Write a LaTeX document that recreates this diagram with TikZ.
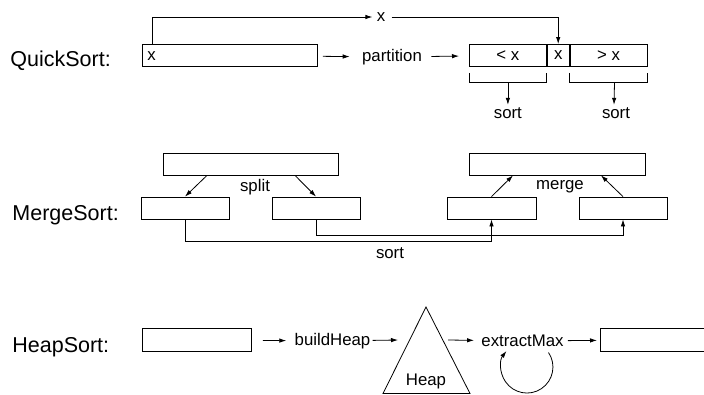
\documentclass[tikz,border=0pt]{standalone}
\usepackage{fontspec}
\setmainfont{Liberation Sans}
\usetikzlibrary{arrows.meta,positioning}
\begin{document}
\begin{tikzpicture}[x=1pt,y=-1pt,line width=0.8pt,>={Latex[length=7pt,width=4.5pt]},
	box/.style={draw, minimum height=22pt, inner sep=0pt, font=\fontsize{16.8}{19}\selectfont},
	algo/.style={anchor=base west, inner sep=0pt, font=\fontsize{21.5}{25}\selectfont},
	txt/.style={inner sep=2pt, font=\fontsize{16.8}{19}\selectfont}]

	\useasboundingbox (0,0) rectangle (704,394);

	% QuickSort
	\node[algo] (qs) at (10,66) {QuickSort:};
	\node[box, minimum width=175pt, anchor=north west] (qin) at (142,44) {};
	\node[txt, anchor=west, inner sep=0pt] (qx) at (147,56) {x};
	\node[txt] (part) at (392,57) {partition};
	\node[box, minimum width=77pt, anchor=north west] (lt) at (469,44) {< x};
	\node[box, minimum width=22pt, right=0pt of lt] (pv) {x};
	\node[box, minimum width=77pt, right=0pt of pv] (gt) {> x};
	\node[txt] (px) at (381,17) {x};
	\node[txt, below=38pt of lt] (sl) {sort};
	\node[txt, below=38pt of gt, xshift=7.5pt] (sr) {sort};

	\draw[->, shorten >=2pt] ([xshift=10pt]qin.north west) |- (px);
	\draw[->, shorten <=4pt] (px) -| (pv);
	\draw[->, shorten <=5pt, shorten >=10pt] (qin) -- (part);
	\draw[->, shorten <=7pt, shorten >=10pt] (part) -- (lt);
	\draw ([yshift=-6pt]lt.south west) -- ++(0,10) -| ([yshift=-6pt]lt.south east);
	\draw ([yshift=-6pt]gt.south west) -- ++(0,10) -| ([yshift=-6pt]gt.south east);
	\draw[->] ([yshift=-16pt]lt.south) -- (sl);
	\draw[->] ([xshift=6pt,yshift=-16pt]gt.south) -- ([xshift=-2pt]sr.north);

	% MergeSort
	\node[algo] (ms) at (12,220) {MergeSort:};
	\node[box, minimum width=175pt] (mt1) at (250.5,164) {};
	\node[box, minimum width=88pt] (ml1) at (185,208) {};
	\node[box, minimum width=88pt] (ml2) at (316,208) {};
	\node[box, minimum width=176pt] (mt2) at (557,164) {};
	\node[box, minimum width=89pt] (mr1) at (491.5,208) {};
	\node[box, minimum width=88pt] (mr2) at (623,208) {};
	\node[txt] (split) at (255,187) {split};
	\node[txt] (merge) at (560,187) {merge};
	\node[txt] (msort) at (390,253) {sort};

	\draw[->] ([xshift=-43.5pt]mt1.south) -- (ml1.north);
	\draw[->] ([xshift=44.5pt]mt1.south) -- (ml2.north);
	\draw[->] (mr1.north) -- ([xshift=-44pt]mt2.south);
	\draw[->] (mr2.north) -- ([xshift=44pt]mt2.south);
	\draw[->] (ml1.south) -- ++(0,22) -| (mr1.south);
	\draw[->] (ml2.south) -- ++(0,16) -| (mr2.south);

	% HeapSort
	\node[algo] (hs) at (12,352) {HeapSort:};
	\node[box, minimum width=109pt, minimum height=23pt, anchor=north west] (hin) at (142,328) {};
	\node[txt] (bh) at (332.5,341) {buildHeap};
	\node[txt] (heap) at (426,381) {Heap};
	\node[txt] (em) at (522.5,341) {extractMax};
	\node[box, minimum width=109pt, minimum height=23pt, anchor=north west] (hout) at (600,328) {};
	\coordinate (hl) at (398,340);
	\coordinate (hr) at (448,340);
	\coordinate (lp) at (548.5,352.5);

	\draw (426,307) -- (383,393.5) -- (470,393.5) -- cycle;
	\draw[->, shorten <=11pt, shorten >=6pt] (hin) -- (bh);
	\draw[->] (bh) -- (hl);
	\draw[->, shorten >=5pt] (hr) -- (em);
	\draw[->, shorten <=2pt, shorten >=3pt] (em) -- (hout);
	\draw[->] (lp) arc[start angle=-34, end angle=218, radius=26];
\end{tikzpicture}
\end{document}
